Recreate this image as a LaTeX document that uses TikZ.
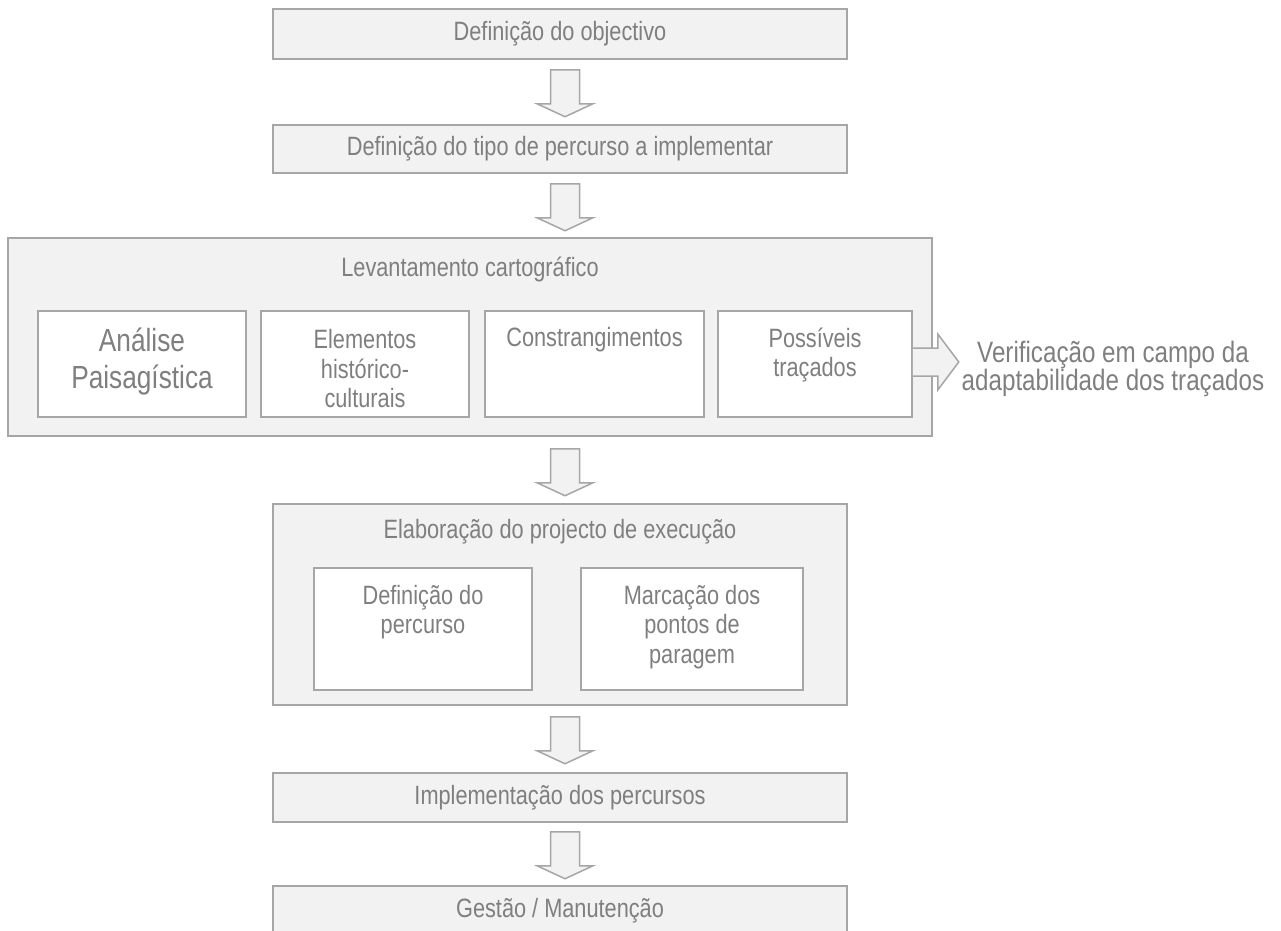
\documentclass[tikz,border=0pt]{standalone}
\usepackage{fontspec}
\setmainfont{Liberation Sans}[FakeStretch=0.82]
\usetikzlibrary{calc}

\definecolor{boxfill}{HTML}{F2F2F2}
\definecolor{boxline}{HTML}{A6A6A6}
\definecolor{txt}{HTML}{7F7F7F}

\tikzset{
  every node/.style={text=txt, font=\fontsize{26.5}{29.5}\selectfont},
  stage/.style={draw=boxline, fill=boxfill, line width=1.5pt, inner sep=0pt,
                minimum width=574pt},
  sub/.style={draw=boxline, fill=white, line width=1.5pt, inner sep=0pt},
  lbl/.style={align=center, inner sep=0pt},
  biglbl/.style={align=center, inner sep=0pt, font=\fontsize{32}{37}\selectfont},
  sidelbl/.style={align=center, inner sep=0pt, font=\fontsize{29.5}{28.5}\selectfont},
  arrowshape/.style={draw=boxline, fill=boxfill, line width=1.5pt, line join=miter},
}

% hollow block arrow pointing down, hanging from the given point
\newcommand{\dnarrow}[1]{%
  \draw[arrowshape] (#1) ++(-14.5,0) -- ++(29,0) -- ++(0,34) -- ++(13.5,0)
    -- ++(-28,13) -- ++(-28,-13) -- ++(13.5,0) -- cycle;}

\begin{document}
\begin{tikzpicture}[x=1pt, y=-1pt]
\useasboundingbox (0,0) rectangle (1281,930);
\clip (0,0) rectangle (1281,930);

% main sequence
\node[stage, minimum height=50pt] (obj) at (560,34) {Definição do objectivo};
\node[stage, minimum height=48pt] (tipo) at (560,149) {Definição do tipo de percurso a implementar};

% survey block
\node[stage, minimum width=924pt, minimum height=198pt] (lev) at (470,337) {};
\node[lbl] (levt) at (470,269) {Levantamento cartográfico};
\node[sub, minimum width=208pt, minimum height=106pt] (pais) at (142,364) {};
\node[sub, minimum width=208pt, minimum height=106pt] (hist) at (365,364) {};
\node[sub, minimum width=219pt, minimum height=106pt] (cons) at (594.5,364) {};
\node[sub, minimum width=194pt, minimum height=106pt] (poss) at (815,364) {};
\node[biglbl] (paist) at (142,362) {Análise\\Paisagística};
\node[lbl] (histt) at (365,369) {Elementos\\histórico-\\culturais};
\node[lbl] (const) at (594.5,340) {Constrangimentos};
\node[lbl] (posst) at (815,355) {Possíveis\\traçados};

% project block
\node[stage, minimum height=201pt] (proj) at (560,604.5) {};
\node[lbl] (projt) at (560,532) {Elaboração do projecto de execução};
\node[sub, minimum width=218pt, minimum height=122pt] (defp) at (423,629) {};
\node[sub, minimum width=222pt, minimum height=122pt] (marc) at (692,629) {};
\node[lbl] (defpt) at (423,612) {Definição do\\percurso};
\node[lbl] (marct) at (692,627) {Marcação dos\\pontos de\\paragem};

\node[stage, minimum height=49pt] (impl) at (560,797.5) {Implementação dos percursos};
\node[stage, minimum height=50pt] (gest) at (560,911) {Gestão / Manutenção};

% down arrows between the stages
\coordinate (a1) at ($(obj.south)+(5,10)$);
\coordinate (a2) at ($(tipo.south)+(5,10)$);
\coordinate (a3) at ($(lev.south)+(95,12)$);
\coordinate (a4) at ($(proj.south)+(5,11)$);
\coordinate (a5) at ($(impl.south)+(5,9)$);
\dnarrow{a1}
\dnarrow{a2}
\dnarrow{a3}
\dnarrow{a4}
\dnarrow{a5}

% side arrow out of the survey block
\coordinate (s0) at ($(poss.east)+(0,-2)$);
\fill[boxfill] (s0) ++(0,-14) -- ++(25,0) -- ++(0,-14) -- ++(21,28)
  -- ++(-21,28) -- ++(0,-14) -- ++(-25,0) -- cycle;
\draw[boxline, line width=1.5pt, line join=miter] (s0) ++(0,-14) -- ++(25,0)
  -- ++(0,-14) -- ++(21,28) -- ++(-21,28) -- ++(0,-14) -- ++(-25,0);
\node[sidelbl] (verif) at (1113,369) {Verificação em campo da\\adaptabilidade dos traçados};
\end{tikzpicture}
\end{document}
